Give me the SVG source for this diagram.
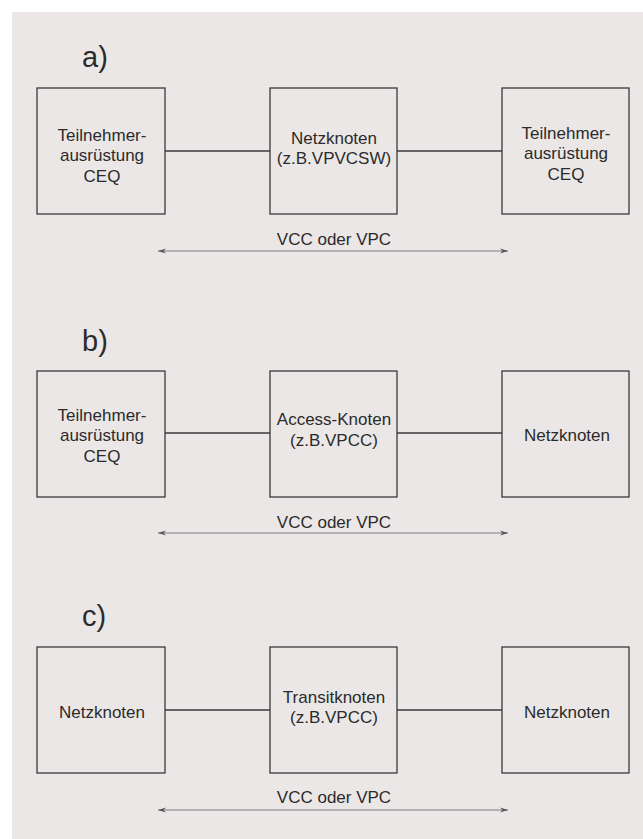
<svg xmlns="http://www.w3.org/2000/svg" width="643" height="839" viewBox="0 0 643 839">
  <style>
    .box { fill: none; stroke: #3a3a3a; stroke-width: 1.3; }
    .t { font-family: "Liberation Sans", Arial, sans-serif; font-size: 17px; fill: #2b2b2b; text-anchor: middle; }
    .lbl { font-family: "Liberation Sans", Arial, sans-serif; font-size: 29px; fill: #2b2b2b; }
    .link { stroke: #3a3a3a; stroke-width: 1.3; fill: none; }
    .span { stroke: #7a7a7a; stroke-width: 1; fill: none; marker-start: url(#headL); marker-end: url(#headR); }
  </style>
  <defs>
    <marker id="headR" viewBox="0 0 8 6" refX="8" refY="3" markerWidth="8" markerHeight="6" markerUnits="userSpaceOnUse" orient="auto">
      <path d="M0,0.5 L8,3 L0,5.5 L2.5,3 Z" fill="#555"/>
    </marker>
    <marker id="headL" viewBox="0 0 8 6" refX="0" refY="3" markerWidth="8" markerHeight="6" markerUnits="userSpaceOnUse" orient="auto">
      <path d="M8,0.5 L0,3 L8,5.5 L5.5,3 Z" fill="#555"/>
    </marker>
  </defs>

  <rect x="0" y="0" width="643" height="839" fill="#ffffff"/>
  <rect x="12" y="12" width="631" height="827" fill="#ebe7e7"/>

  <!-- Section labels -->
  <text class="lbl" x="82" y="67">a)</text>
  <text class="lbl" x="82" y="351">b)</text>
  <text class="lbl" x="82" y="626">c)</text>

  <!-- Section a -->
  <g id="a-ceq-left">
    <rect class="box" x="37" y="88" width="128" height="126"/>
    <text class="t" x="102" y="141">Teilnehmer-</text>
    <text class="t" x="102" y="161">ausrüstung</text>
    <text class="t" x="102" y="182">CEQ</text>
  </g>
  <g id="a-netzknoten">
    <rect class="box" x="270" y="88" width="127" height="126"/>
    <text class="t" x="334" y="144">Netzknoten</text>
    <text class="t" x="334" y="164">(z.B.VPVCSW)</text>
  </g>
  <g id="a-ceq-right">
    <rect class="box" x="502" y="88" width="127" height="126"/>
    <text class="t" x="566" y="139">Teilnehmer-</text>
    <text class="t" x="566" y="159">ausrüstung</text>
    <text class="t" x="566" y="180">CEQ</text>
  </g>
  <text class="t" x="334" y="245">VCC oder VPC</text>

  <!-- Section b -->
  <g id="b-ceq">
    <rect class="box" x="37" y="371" width="128" height="126"/>
    <text class="t" x="102" y="421">Teilnehmer-</text>
    <text class="t" x="102" y="441">ausrüstung</text>
    <text class="t" x="102" y="462">CEQ</text>
  </g>
  <g id="b-access">
    <rect class="box" x="270" y="371" width="127" height="126"/>
    <text class="t" x="334" y="425">Access-Knoten</text>
    <text class="t" x="334" y="446">(z.B.VPCC)</text>
  </g>
  <g id="b-netzknoten">
    <rect class="box" x="502" y="371" width="127" height="126"/>
    <text class="t" x="567" y="441">Netzknoten</text>
  </g>
  <text class="t" x="334" y="528">VCC oder VPC</text>

  <!-- Section c -->
  <g id="c-netzknoten-left">
    <rect class="box" x="37" y="647" width="128" height="126"/>
    <text class="t" x="102" y="718">Netzknoten</text>
  </g>
  <g id="c-transit">
    <rect class="box" x="270" y="647" width="127" height="126"/>
    <text class="t" x="334" y="703">Transitknoten</text>
    <text class="t" x="334" y="723">(z.B.VPCC)</text>
  </g>
  <g id="c-netzknoten-right">
    <rect class="box" x="502" y="647" width="127" height="126"/>
    <text class="t" x="567" y="718">Netzknoten</text>
  </g>
  <text class="t" x="334" y="803">VCC oder VPC</text>

  <!-- Connectors -->
  <g id="connectors">
    <line class="link" x1="165" y1="151" x2="270" y2="151"/>
    <line class="link" x1="397" y1="151" x2="502" y2="151"/>
    <line class="span" x1="158" y1="251" x2="508" y2="251"/>

    <line class="link" x1="165" y1="433" x2="270" y2="433"/>
    <line class="link" x1="397" y1="433" x2="502" y2="433"/>
    <line class="span" x1="158" y1="533" x2="508" y2="533"/>

    <line class="link" x1="165" y1="710" x2="270" y2="710"/>
    <line class="link" x1="397" y1="710" x2="502" y2="710"/>
    <line class="span" x1="158" y1="810" x2="508" y2="810"/>
  </g>
</svg>
